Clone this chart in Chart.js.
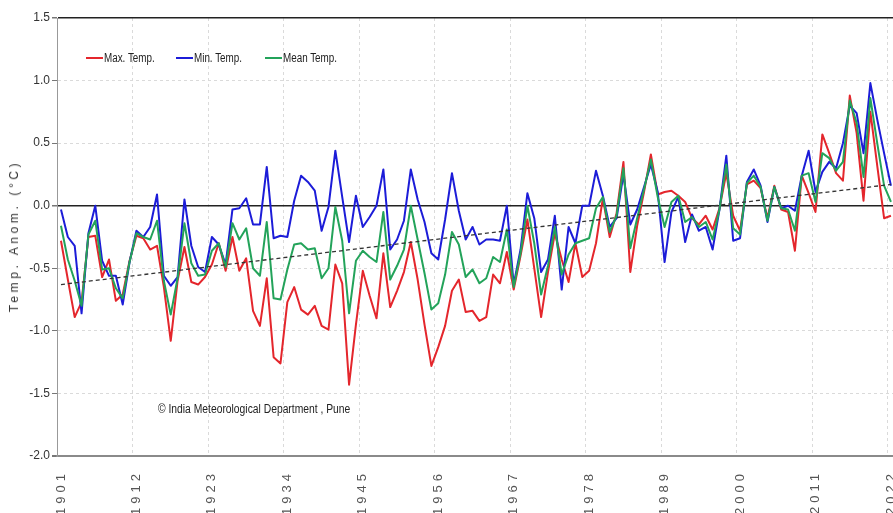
<!DOCTYPE html>
<html>
<head>
<meta charset="utf-8">
<script src="https://cdn.jsdelivr.net/npm/chart.js@4.4.1/dist/chart.umd.min.js"></script>
<style>
  html, body { margin: 0; padding: 0; background: #fff; overflow: hidden; }
  #wrap { position: relative; width: 893px; height: 513px; }
  canvas { position: absolute; left: 0; top: 0; }
  .txt { position: absolute; font-family: 'Liberation Sans Narrow', 'Arial Narrow', 'Liberation Sans', Arial, sans-serif; font-size: 12px; color: #222; white-space: nowrap; }
  .lg { top: 51px; display: flex; align-items: center; line-height: 14px; }
  .lg i { display: inline-block; width: 17px; height: 2px; margin-right: 1px; }
  .nar { display: inline-block; transform: scaleX(0.82); transform-origin: 0 50%; }
  #ytitle { left: 14px; top: 236px; transform: translate(-50%, -50%) rotate(-90deg); letter-spacing: 3.6px; color: #333; }
  #credit { left: 158px; top: 402px; }
</style>
</head>
<body>
<div id="wrap">
  <canvas id="c" width="893" height="513"></canvas>
  <div class="txt lg" style="left:86px"><i style="background:#e4262c"></i><span class="nar">Max. Temp.</span></div>
  <div class="txt lg" style="left:176px"><i style="background:#1c1cd8"></i><span class="nar">Min. Temp.</span></div>
  <div class="txt lg" style="left:265px"><i style="background:#23a35a"></i><span class="nar">Mean Temp.</span></div>
  <div class="txt" id="ytitle">Temp. Anom. (°C)</div>
  <div class="txt" id="credit"><span class="nar" style="transform:scaleX(0.86)">© India Meteorological Department , Pune</span></div>
</div>
<script>
const firstYear = 1901;

const maxTemp = [
  -0.28,-0.59,-0.89,-0.77,-0.25,-0.24,-0.57,-0.43,-0.76,-0.71,
  -0.44,-0.24,-0.26,-0.35,-0.32,-0.65,-1.08,-0.60,-0.33,-0.61,
  -0.63,-0.57,-0.47,-0.30,-0.52,-0.25,-0.52,-0.42,-0.84,-0.96,
  -0.58,-1.21,-1.26,-0.77,-0.65,-0.83,-0.87,-0.80,-0.96,-0.99,
  -0.47,-0.62,-1.43,-0.95,-0.52,-0.72,-0.90,-0.38,-0.81,-0.68,
  -0.53,-0.29,-0.59,-0.95,-1.28,-1.13,-0.96,-0.68,-0.59,-0.85,
  -0.84,-0.92,-0.89,-0.55,-0.62,-0.37,-0.67,-0.40,-0.11,-0.50,
  -0.89,-0.53,-0.22,-0.43,-0.61,-0.30,-0.57,-0.52,-0.30,0.06,
  -0.25,-0.06,0.35,-0.53,-0.16,0.11,0.41,0.09,0.11,0.12,
  0.08,0.03,-0.10,-0.15,-0.08,-0.19,-0.02,0.26,-0.08,-0.20,
  0.17,0.20,0.14,-0.10,0.16,-0.03,-0.05,-0.36,0.24,0.10,
  -0.05,0.57,0.42,0.26,0.20,0.88,0.58,0.04,0.75,0.32,
  -0.10,-0.08
];

const minTemp = [
  -0.03,-0.25,-0.32,-0.86,-0.22,0.00,-0.44,-0.56,-0.56,-0.79,
  -0.45,-0.20,-0.25,-0.17,0.09,-0.56,-0.64,-0.57,0.05,-0.32,
  -0.49,-0.53,-0.25,-0.31,-0.47,-0.03,-0.02,0.06,-0.15,-0.15,
  0.31,-0.26,-0.24,-0.25,0.04,0.24,0.19,0.12,-0.20,-0.01,
  0.44,0.07,-0.29,0.08,-0.17,-0.09,0.00,0.29,-0.35,-0.27,
  -0.12,0.29,0.05,-0.13,-0.38,-0.43,-0.11,0.26,-0.04,-0.27,
  -0.17,-0.31,-0.27,-0.27,-0.28,0.00,-0.63,-0.35,0.10,-0.10,
  -0.53,-0.43,-0.08,-0.67,-0.17,-0.30,0.00,0.00,0.28,0.08,
  -0.17,-0.10,0.25,-0.15,-0.03,0.15,0.33,0.11,-0.45,-0.05,
  0.07,-0.29,-0.07,-0.20,-0.17,-0.35,-0.03,0.40,-0.28,-0.26,
  0.19,0.29,0.16,-0.13,0.15,-0.02,0.00,-0.04,0.24,0.44,
  0.11,0.27,0.35,0.30,0.50,0.80,0.74,0.42,0.98,0.69,
  0.42,0.16
];

const meanTemp = [
  -0.16,-0.43,-0.60,-0.80,-0.23,-0.12,-0.51,-0.50,-0.66,-0.74,
  -0.45,-0.22,-0.25,-0.27,-0.12,-0.60,-0.87,-0.58,-0.14,-0.46,
  -0.56,-0.55,-0.36,-0.30,-0.49,-0.14,-0.27,-0.18,-0.50,-0.56,
  -0.13,-0.74,-0.75,-0.51,-0.31,-0.30,-0.35,-0.34,-0.58,-0.50,
  -0.01,-0.28,-0.86,-0.44,-0.36,-0.41,-0.45,-0.05,-0.59,-0.48,
  -0.35,0.00,-0.27,-0.54,-0.83,-0.78,-0.55,-0.21,-0.31,-0.57,
  -0.51,-0.62,-0.58,-0.41,-0.45,-0.19,-0.65,-0.38,0.00,-0.30,
  -0.71,-0.48,-0.17,-0.55,-0.39,-0.30,-0.28,-0.26,-0.02,0.07,
  -0.21,-0.08,0.30,-0.34,-0.10,0.13,0.37,0.07,-0.17,0.03,
  0.08,-0.13,-0.09,-0.17,-0.13,-0.27,-0.03,0.33,-0.18,-0.23,
  0.18,0.24,0.15,-0.12,0.15,-0.02,-0.03,-0.20,0.24,0.26,
  0.03,0.42,0.38,0.28,0.35,0.84,0.66,0.23,0.86,0.50,
  0.16,0.03
];

const trendYears = [1901, 2022];
const trendValues = [-0.63, 0.17];

const xTickYears = [1901, 1912, 1923, 1934, 1945, 1956, 1967, 1978, 1989, 2000, 2011, 2022];
const yTickValues = [-2.0, -1.5, -1.0, -0.5, 0.0, 0.5, 1.0, 1.5];

const years = maxTemp.map((_, i) => firstYear + i);
const toPoints = arr => arr.map((v, i) => ({ x: years[i], y: v }));

const FONT = "'Liberation Sans Narrow','Arial Narrow','Liberation Sans',Arial,sans-serif";
const X_MIN = 1900.42, X_MAX = 2022.3;

const labelSpacing = {
  id: 'labelSpacing',
  afterDatasetsDraw(chart) { if ('letterSpacing' in chart.ctx) chart.ctx.letterSpacing = '4px'; },
  afterDraw(chart) { if ('letterSpacing' in chart.ctx) chart.ctx.letterSpacing = '0px'; }
};

const isSolid = v => v === 0 || v === 1.5 || v === -2;

new Chart(document.getElementById('c'), {
  type: 'line',
  data: {
    datasets: [
      { label: 'Trend', data: trendYears.map((y, i) => ({ x: y, y: trendValues[i] })),
        borderColor: '#333', borderWidth: 1.3, borderDash: [4, 3], pointRadius: 0, order: 0 },
      { label: 'Mean Temp.', data: toPoints(meanTemp), borderColor: '#23a35a', borderWidth: 2, pointRadius: 0, order: 1 },
      { label: 'Min. Temp.', data: toPoints(minTemp), borderColor: '#1c1cd8', borderWidth: 2, pointRadius: 0, order: 2 },
      { label: 'Max. Temp.', data: toPoints(maxTemp), borderColor: '#e4262c', borderWidth: 2, pointRadius: 0, order: 3 }
    ]
  },
  options: {
    responsive: false,
    animation: false,
    devicePixelRatio: 1,
    layout: { padding: { top: 18, left: 0, right: 0, bottom: 0 } },
    plugins: { legend: { display: false }, tooltip: { enabled: false } },
    elements: { line: { tension: 0, borderJoinStyle: 'round' } },
    scales: {
      x: {
        type: 'linear', bounds: 'data', min: X_MIN, max: X_MAX, position: 'bottom',
        afterBuildTicks: s => { s.ticks = xTickYears.map(v => ({ value: v })); },
        afterFit: s => { s.height = 57; s.paddingLeft = 0; s.paddingRight = 0; },
        grid: { display: false },
        border: { display: true, color: '#8a8a8a', width: 2 },
        ticks: { autoSkip: false, minRotation: 90, maxRotation: 90, padding: 6, z: 1,
                 color: '#555', font: { family: FONT, size: 13 }, callback: v => String(v) }
      },
      x2: {
        type: 'linear', bounds: 'data', min: X_MIN, max: X_MAX, position: 'bottom',
        afterBuildTicks: s => { s.ticks = xTickYears.slice(1).map(v => ({ value: v - 0.5 })); },
        afterFit: s => { s.height = 0; s.paddingLeft = 0; s.paddingRight = 0; },
        ticks: { display: false },
        grid: { color: '#dadada', lineWidth: 1, drawTicks: false },
        border: { display: false, dash: [3, 3] }
      },
      y: {
        type: 'linear', min: -2, max: 1.5,
        afterBuildTicks: s => { s.ticks = yTickValues.map(v => ({ value: v })); },
        afterFit: s => { s.width = 57; s.paddingTop = 0; s.paddingBottom = 0; },
        grid: {
          color: c => {
            const v = c.tick ? c.tick.value : null;
            if (v === 0 || v === 1.5) return '#222';
            if (v === -2) return '#8a8a8a';
            return '#dadada';
          },
          lineWidth: c => {
            const v = c.tick ? c.tick.value : null;
            if (v === 0 || v === 1.5) return 1.5;
            if (v === -2) return 2;
            return 1;
          },
          drawTicks: true, tickLength: 5, tickColor: '#777'
        },
        border: { display: true, color: '#999', width: 1,
                  dash: c => (c.tick && !isSolid(c.tick.value)) ? [3, 3] : [] },
        ticks: { padding: 2, color: '#333', font: { family: FONT, size: 12 },
                 callback: v => Number(v).toFixed(1) }
      }
    }
  },
  plugins: [labelSpacing]
});
</script>
</body>
</html>
